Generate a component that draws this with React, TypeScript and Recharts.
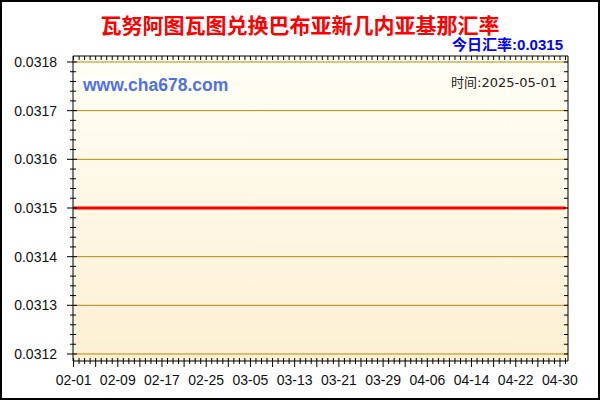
import React from 'react';
import { LineChart, Line, XAxis, YAxis, CartesianGrid } from 'recharts';

// ---- data ----
const dates: string[] = [
  '02-01', '02-02', '02-03', '02-04', '02-05', '02-06', '02-07', '02-08', '02-09', '02-10',
  '02-11', '02-12', '02-13', '02-14', '02-15', '02-16', '02-17', '02-18', '02-19', '02-20',
  '02-21', '02-22', '02-23', '02-24', '02-25', '02-26', '02-27', '02-28',
  '03-01', '03-02', '03-03', '03-04', '03-05', '03-06', '03-07', '03-08', '03-09', '03-10',
  '03-11', '03-12', '03-13', '03-14', '03-15', '03-16', '03-17', '03-18', '03-19', '03-20',
  '03-21', '03-22', '03-23', '03-24', '03-25', '03-26', '03-27', '03-28', '03-29', '03-30', '03-31',
  '04-01', '04-02', '04-03', '04-04', '04-05', '04-06', '04-07', '04-08', '04-09', '04-10',
  '04-11', '04-12', '04-13', '04-14', '04-15', '04-16', '04-17', '04-18', '04-19', '04-20',
  '04-21', '04-22', '04-23', '04-24', '04-25', '04-26', '04-27', '04-28', '04-29', '04-30',
  '05-01',
];

const rates: number[] = [
  0.0315, 0.0315, 0.0315, 0.0315, 0.0315, 0.0315, 0.0315, 0.0315, 0.0315, 0.0315,
  0.0315, 0.0315, 0.0315, 0.0315, 0.0315, 0.0315, 0.0315, 0.0315, 0.0315, 0.0315,
  0.0315, 0.0315, 0.0315, 0.0315, 0.0315, 0.0315, 0.0315, 0.0315,
  0.0315, 0.0315, 0.0315, 0.0315, 0.0315, 0.0315, 0.0315, 0.0315, 0.0315, 0.0315,
  0.0315, 0.0315, 0.0315, 0.0315, 0.0315, 0.0315, 0.0315, 0.0315, 0.0315, 0.0315,
  0.0315, 0.0315, 0.0315, 0.0315, 0.0315, 0.0315, 0.0315, 0.0315, 0.0315, 0.0315, 0.0315,
  0.0315, 0.0315, 0.0315, 0.0315, 0.0315, 0.0315, 0.0315, 0.0315, 0.0315, 0.0315,
  0.0315, 0.0315, 0.0315, 0.0315, 0.0315, 0.0315, 0.0315, 0.0315, 0.0315, 0.0315,
  0.0315, 0.0315, 0.0315, 0.0315, 0.0315, 0.0315, 0.0315, 0.0315, 0.0315, 0.0315,
  0.0315,
];

const xLabelDates = ['02-01', '02-09', '02-17', '02-25', '03-05', '03-13', '03-21', '03-29', '04-06', '04-14', '04-22', '04-30'];
const yMajorTicks = [0.0312, 0.0313, 0.0314, 0.0315, 0.0316, 0.0317, 0.0318];
const yMinorStep = 0.00002;

const titleText = '瓦努阿图瓦图兑换巴布亚新几内亚基那汇率';
const todayLabel = '今日汇率:';
const todayValue = '0.0315';
const siteText = 'www.cha678.com';
const timeText = '时间:2025-05-01';

// ---- derived for the library ----
const data = dates.map((d, i) => ({ day: i, date: d, rate: rates[i] }));
const dayTicks = dates.map((_, i) => i);
const yAllTicks: number[] = [];
for (let v = yMajorTicks[0]; v <= yMajorTicks[yMajorTicks.length - 1] + 1e-9; v += yMinorStep) {
  yAllTicks.push(+v.toFixed(5));
}
const isMajorY = (v: number) => yMajorTicks.some((m) => Math.abs(m - v) < 1e-7);

const X_DOMAIN: [number, number] = [-0.1, 89.45];
const Y_DOMAIN: [number, number] = [0.0311856, 0.0318123];

const AXIS_FONT = '"Liberation Sans", Arial, sans-serif';

const BottomTick = (props: any) => {
  const { x, y, payload } = props;
  const i = payload.value as number;
  const major = i % 4 === 0;
  const d = dates[i];
  const label = xLabelDates.includes(d) ? d : null;
  return (
    <g>
      <line x1={x} x2={x} y1={y - 3} y2={y + (major ? 6 : 3)} stroke="#000" strokeWidth={1} />
      {label && (
        <text x={x} y={y + 19} textAnchor="middle" dominantBaseline="central" fontFamily={AXIS_FONT} fontSize={14} fill="#111">
          {label}
        </text>
      )}
    </g>
  );
};

const TopTick = (props: any) => {
  const { x, y } = props;
  return <line x1={x} x2={x} y1={y} y2={y + 4} stroke="#000" strokeWidth={1} />;
};

const LeftTick = (props: any) => {
  const { x, y, payload } = props;
  const v = payload.value as number;
  if (!isMajorY(v)) {
    return <line x1={x - 3} x2={x + 3} y1={y} y2={y} stroke="#000" strokeWidth={1} />;
  }
  return (
    <g>
      <line x1={x - 6} x2={x + 4} y1={y} y2={y} stroke="#000" strokeWidth={1} />
      <text x={x - 16} y={y} textAnchor="end" dominantBaseline="central" fontFamily={AXIS_FONT} fontSize={14} fill="#111">
        {v.toFixed(4)}
      </text>
    </g>
  );
};

const RightTick = (props: any) => {
  const { x, y } = props;
  return <line x1={x - 4} x2={x} y1={y} y2={y} stroke="#000" strokeWidth={1} />;
};

export default function App() {
  return (
    <div style={{ position: 'absolute', left: 0, top: 0, width: 600, height: 400, background: '#fff' }}>
      <svg width={0} height={0} style={{ position: 'absolute' }}>
        <defs>
          <linearGradient id="plotBg" x1="0" y1="0" x2="0" y2="1">
            <stop offset="0%" stopColor="#FFFEF6" />
            <stop offset="100%" stopColor="#FDF0D3" />
          </linearGradient>
        </defs>
      </svg>
      <LineChart width={600} height={400} data={data} margin={{ top: 55, right: 31, bottom: 38, left: 72 }}>
        <CartesianGrid
          vertical={false}
          horizontalValues={yMajorTicks}
          stroke="#b8860b"
          strokeWidth={1}
          fill="url(#plotBg)"
        />
        <XAxis
          xAxisId={0}
          dataKey="day"
          type="number"
          domain={X_DOMAIN}
          allowDataOverflow
          ticks={dayTicks}
          interval={0}
          height={1}
          tickSize={0}
          tickMargin={0}
          tickLine={false}
          axisLine={{ stroke: '#000', strokeWidth: 1 }}
          tick={(p: any) => <BottomTick {...p} />}
        />
        <XAxis
          xAxisId="top"
          orientation="top"
          dataKey="day"
          type="number"
          domain={X_DOMAIN}
          allowDataOverflow
          ticks={dayTicks}
          interval={0}
          height={1}
          tickSize={0}
          tickMargin={0}
          tickLine={false}
          axisLine={{ stroke: '#000', strokeWidth: 1 }}
          tick={(p: any) => <TopTick {...p} />}
        />
        <YAxis
          yAxisId={0}
          type="number"
          domain={Y_DOMAIN}
          allowDataOverflow
          ticks={yAllTicks}
          interval={0}
          width={1}
          tickSize={0}
          tickMargin={0}
          tickLine={false}
          axisLine={{ stroke: '#000', strokeWidth: 1 }}
          tick={(p: any) => <LeftTick {...p} />}
        />
        <YAxis
          yAxisId="right"
          orientation="right"
          type="number"
          domain={Y_DOMAIN}
          allowDataOverflow
          ticks={yAllTicks}
          interval={0}
          width={1}
          tickSize={0}
          tickMargin={0}
          tickLine={false}
          axisLine={{ stroke: '#000', strokeWidth: 1 }}
          tick={(p: any) => <RightTick {...p} />}
        />
        <Line
          xAxisId={0}
          yAxisId={0}
          type="linear"
          dataKey="rate"
          stroke="#ff0000"
          strokeWidth={3}
          dot={false}
          activeDot={false}
          isAnimationActive={false}
        />
      </LineChart>
      <svg width={600} height={400} style={{ position: 'absolute', left: 0, top: 0, pointerEvents: 'none' }}>
        <text x={300} y={24} textAnchor="middle" dominantBaseline="central" fontFamily='"Noto Sans CJK SC", sans-serif' fontWeight="bold" fontSize={21} fill="#ff0000">
          {titleText}
        </text>
        <text x={563} y={43.5} textAnchor="end" dominantBaseline="central" fontFamily='"Liberation Sans", "Noto Sans CJK SC", sans-serif' fontWeight="bold" fontSize={15} fill="#0000ff">
          <tspan>{todayLabel}</tspan>
          <tspan>{todayValue}</tspan>
        </text>
        <rect x={81} y={76} width={140} height={17} fill="#ffffff" fillOpacity={0.75} />
        <text x={83} y={84.5} dominantBaseline="central" fontFamily='"Liberation Sans", Arial, sans-serif' fontWeight="bold" fontSize={17.5} fill="#4f6ff0">
          {siteText}
        </text>
        <text x={557} y={82} textAnchor="end" dominantBaseline="central" fontFamily='"DejaVu Sans", "Noto Sans CJK SC", sans-serif' fontSize={13} fill="#222">
          {timeText}
        </text>
      </svg>
      <div style={{ position: 'absolute', left: 0, top: 0, width: 600, height: 400, boxSizing: 'border-box', border: '2px solid #000', pointerEvents: 'none' }} />
    </div>
  );
}
